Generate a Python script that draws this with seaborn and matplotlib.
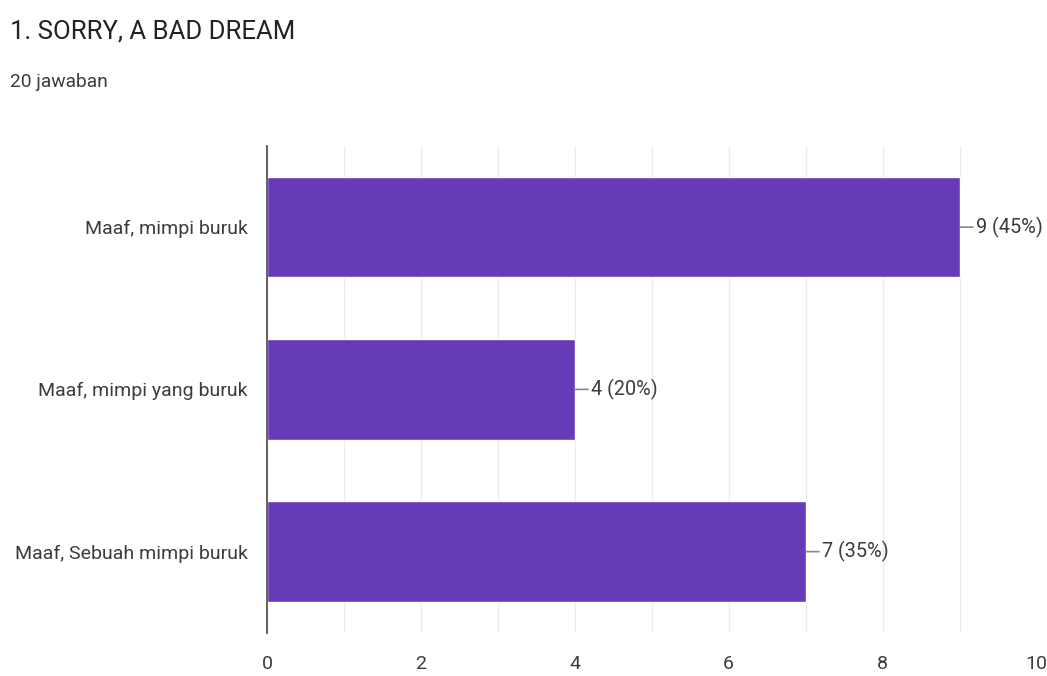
import pandas as pd
import seaborn as sns
from matplotlib import pyplot as plt

# Données
pilihan = ["Maaf, mimpi buruk", "Maaf, mimpi yang buruk", "Maaf, Sebuah mimpi buruk"]
jumlah = [9, 4, 7]
total = 20
judul = "1. SORRY, A BAD DREAM"
sub_judul = f"{total} jawaban"
ticks_x = [0, 2, 4, 6, 8, 10]

df = pd.DataFrame({"pilihan": pilihan, "jumlah": jumlah})

sns.set_style("white")
plt.rcParams['font.family'] = ['Roboto', 'DejaVu Sans']

fig = plt.figure(figsize=(10.47, 6.76), dpi=100)
ax = fig.add_axes([0.255, 0.064, 0.735, 0.72])

sns.barplot(data=df, x="jumlah", y="pilihan", color="#673ab7", saturation=1,
            width=0.62, ax=ax, zorder=3)

# grille verticale à chaque unité
ax.set_xlim(0, 10)
ax.set_xticks(range(0, 11), minor=True)
ax.set_xticks(ticks_x)
ax.grid(axis="x", which="both", color="#ebebeb", linewidth=1, zorder=0)
ax.set_axisbelow(True)

for s in ["top", "right", "bottom"]:
    ax.spines[s].set_visible(False)
ax.spines["left"].set_color("#555555")
ax.spines["left"].set_linewidth(1.3)
ax.spines["left"].set_zorder(4)

ax.tick_params(axis="both", which="both", length=0, labelsize=14, colors="#3c3c3c")
ax.tick_params(axis="x", pad=16)
ax.tick_params(axis="y", pad=14)
ax.set_xlabel("")
ax.set_ylabel("")

# étiquettes des valeurs
for i, v in enumerate(jumlah):
    ax.annotate(f"{v} ({v / total:.0%})", xy=(v, i), xytext=(12, 0),
                textcoords="offset points", ha="left", va="center",
                fontsize=14.3, color="#3c3c3c",
                arrowprops=dict(arrowstyle="-", color="#888888", lw=1.2,
                                shrinkA=0, shrinkB=0))

fig.text(0.01, 0.953, judul, fontsize=18.5, color="#222222", va="center")
fig.text(0.01, 0.878, sub_judul, fontsize=13.8, color="#3c3c3c", va="center")

plt.savefig("out.png", dpi=100)
